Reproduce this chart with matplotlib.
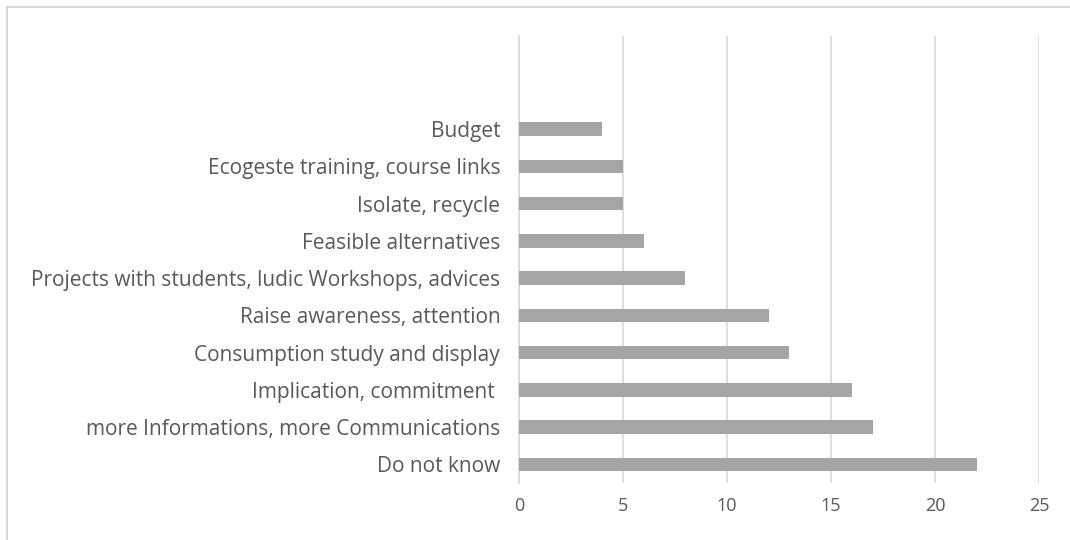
import matplotlib
matplotlib.use('Agg')
import matplotlib.pyplot as plt
from matplotlib.patches import Rectangle

# Survey answers, listed bottom to top as they appear on the axis
categories = [
    'Do not know',
    'more Informations, more Communications',
    'Implication, commitment ',
    'Consumption study and display',
    'Raise awareness, attention',
    'Projects with students, ludic Workshops, advices',
    'Feasible alternatives',
    'Isolate, recycle',
    'Ecogeste training, course links',
    'Budget',
]
counts = [22, 17, 16, 13, 12, 8, 6, 5, 5, 4]
x_ticks = [0, 5, 10, 15, 20, 25]

text_color = '#595959'
bar_color = '#A5A5A5'
grid_color = '#D9D9D9'

plt.rcParams['font.family'] = ['Open Sans', 'DejaVu Sans']

fig = plt.figure(figsize=(10.7, 5.4), dpi=100)
fig.patch.set_facecolor('white')

# chart frame
fig.patches.append(Rectangle((7 / 1070, -0.05), 1.1, 1 - 7 / 540 + 0.05,
                             transform=fig.transFigure, fill=False,
                             edgecolor='#D9D9D9', linewidth=1.5))

ax = fig.add_axes([519 / 1070, 1 - 483 / 540, 520 / 1070, 447 / 540])
y = list(range(len(categories)))
ax.barh(y, counts, height=0.36, color=bar_color, zorder=3)

ax.set_xlim(0, 25)
ax.set_ylim(-0.5, 11.5)
ax.set_xticks(x_ticks)
ax.set_yticks(y)
ax.set_yticklabels(categories, fontsize=15)
ax.tick_params(axis='both', length=0, colors=text_color)
ax.tick_params(axis='x', labelsize=13, pad=10)
ax.tick_params(axis='y', pad=13.5)
ax.grid(axis='x', color=grid_color, linewidth=1.2, zorder=0)
for side in ['top', 'right', 'bottom']:
    ax.spines[side].set_visible(False)
ax.spines['left'].set_color(grid_color)
ax.spines['left'].set_linewidth(1.2)

fig.savefig('out.png', dpi=100, facecolor='white')
